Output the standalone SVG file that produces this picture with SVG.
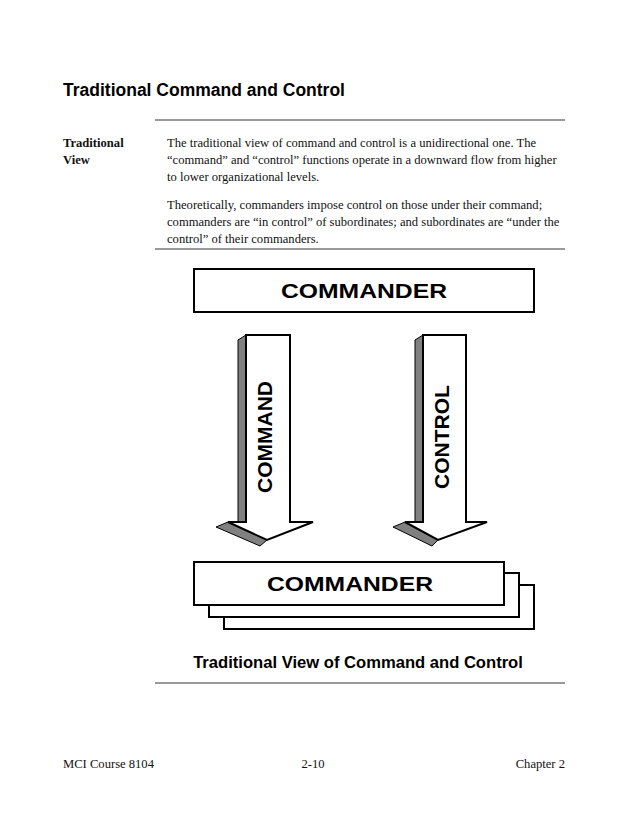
<svg xmlns="http://www.w3.org/2000/svg" width="638" height="826" viewBox="0 0 638 826">
<style>
.t{font-family:"Liberation Serif",serif;font-size:12.6px;fill:#111}
.h{font-family:"Liberation Sans",sans-serif;font-weight:bold;fill:#000}
.box{fill:#fff;stroke:#000;stroke-width:2}
.sh{fill:#808080;stroke:#000;stroke-width:1}
.rule{stroke:#777;stroke-width:1.5}
</style>
<rect width="638" height="826" fill="#fff"/>
<text x="63" y="96" class="h" font-size="17.5">Traditional Command and Control</text>
<line x1="155" y1="120" x2="565" y2="120" class="rule"/>
<text x="63" y="147" class="t" font-weight="bold">Traditional</text>
<text x="63" y="164" class="t" font-weight="bold">View</text>
<text x="167" y="147" class="t">The traditional view of command and control is a unidirectional one.  The</text>
<text x="167" y="164" class="t">“command” and “control” functions operate in a downward flow from higher</text>
<text x="167" y="181" class="t">to lower organizational levels.</text>
<text x="167" y="209" class="t">Theoretically, commanders impose control on those under their command;</text>
<text x="167" y="226" class="t">commanders are “in control” of subordinates; and subordinates are “under the</text>
<text x="167" y="243" class="t">control” of their commanders.</text>
<line x1="155" y1="249" x2="565" y2="249" class="rule"/>
<g id="top-commander">
<rect x="194" y="269" width="340" height="43" class="box"/>
<text x="281" y="298" class="h" font-size="20" textLength="166" lengthAdjust="spacingAndGlyphs">COMMANDER</text>
</g>
<g id="connectors">
<g id="command-arrow">
<polygon points="238,340 246,335 246,522 238,522" class="sh"/>
<polygon points="216,527 228,522 267,540 260,546" class="sh"/>
<polygon points="246,335 290,335 290,522 313,522 267,540 228,522 246,522" class="box" stroke-width="1.5"/>
<text transform="translate(272,437) rotate(-90)" class="h" font-size="21" text-anchor="middle">COMMAND</text>
</g>
<g id="control-arrow">
<polygon points="415,340 423,335 423,522 415,522" class="sh"/>
<polygon points="393,527 405,522 438,540 432,546" class="sh"/>
<polygon points="423,335 466,335 466,522 487,522 438,540 405,522 423,522" class="box" stroke-width="1.5"/>
<text transform="translate(449,437) rotate(-90)" class="h" font-size="21" text-anchor="middle">CONTROL</text>
</g>
</g>
<g id="bottom-commander">
<rect x="224" y="585" width="310" height="44" class="box"/>
<rect x="209" y="573" width="310" height="44" class="box"/>
<rect x="194" y="562" width="310" height="43" class="box"/>
<text x="267" y="591" class="h" font-size="21" textLength="166" lengthAdjust="spacingAndGlyphs">COMMANDER</text>
</g>
<text x="358" y="668" class="h" font-size="16.6" text-anchor="middle">Traditional View of Command and Control</text>
<line x1="155" y1="683" x2="565" y2="683" class="rule"/>
<text x="63" y="768" class="t" font-size="11">MCI Course 8104</text>
<text x="313" y="768" class="t" font-size="13.5" text-anchor="middle">2-10</text>
<text x="565" y="768" class="t" font-size="11" text-anchor="end">Chapter 2</text>
</svg>
